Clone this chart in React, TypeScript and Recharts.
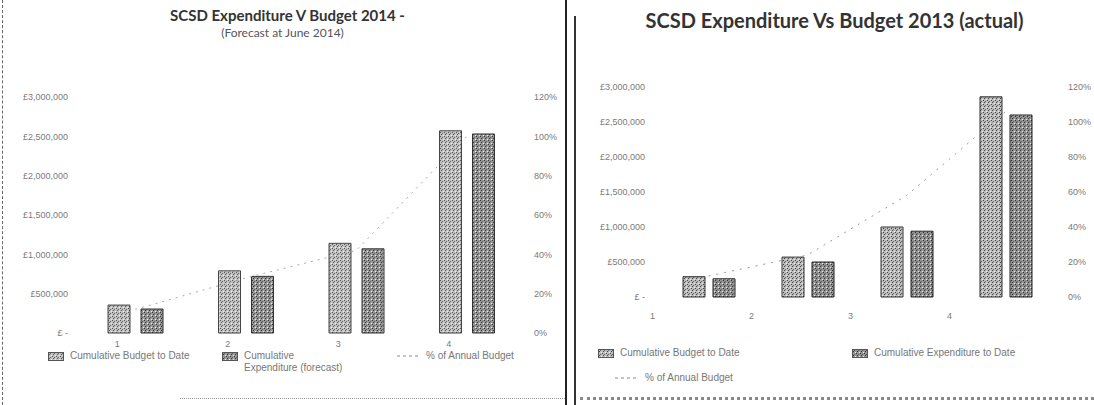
import React from 'react';
import {
  ComposedChart,
  Bar,
  Line,
  XAxis,
  YAxis,
} from 'recharts';

// quarters on the category axis
const quarters = ['1', '2', '3', '4'];

// 2014 (forecast at June 2014)
const budget2014 = [355000, 790000, 1140000, 2570000];
const expenditure2014 = [305000, 720000, 1070000, 2530000];
const pctOfBudget2014 = [0.12, 0.28, 0.42, 1.0];

// 2013 (actual)
const budget2013 = [290000, 570000, 1000000, 2860000];
const expenditure2013 = [260000, 500000, 940000, 2600000];
const pctOfBudget2013 = [0.12, 0.24, 0.58, 1.06];

const moneyTicks = [0, 500000, 1000000, 1500000, 2000000, 2500000, 3000000];
const pctTicks = [0, 0.2, 0.4, 0.6, 0.8, 1.0, 1.2];

const rows2014 = quarters.map((q, i) => ({
  q,
  budget: budget2014[i],
  spend: expenditure2014[i],
  pct: pctOfBudget2014[i],
}));

const rows2013 = quarters.map((q, i) => ({
  q,
  budget: budget2013[i],
  spend: expenditure2013[i],
  pct: pctOfBudget2013[i],
}));

const formatMoney = (v: number) => (v === 0 ? '£ -' : `£${v.toLocaleString('en-GB')}`);
const formatPct = (v: number) => `${Math.round(v * 100)}%`;

const tickStyle = { fontSize: 9, fill: '#7a7a7a', fontFamily: '"Liberation Sans", sans-serif' };
const legendText: React.CSSProperties = {
  position: 'absolute',
  fontSize: 10,
  color: '#777',
  fontFamily: '"Liberation Sans", sans-serif',
  whiteSpace: 'nowrap',
  lineHeight: '12px',
};

const Stipple = ({ id, base, dark }: { id: string; base: string; dark: string }) => (
  <pattern id={id} width="4" height="4" patternUnits="userSpaceOnUse">
    <rect width="4" height="4" fill={base} />
    <rect x="0" y="0" width="1" height="1" fill={dark} />
    <rect x="2" y="1" width="1" height="1" fill="#666" />
    <rect x="1" y="2" width="1" height="1" fill={dark} />
    <rect x="3" y="3" width="1" height="1" fill="#eee" />
  </pattern>
);

const Swatch = ({ fill, left, top }: { fill: string; left: number; top: number }) => (
  <svg style={{ position: 'absolute', left, top }} width={16} height={9}>
    <rect x={0.5} y={0.5} width={15} height={8} fill={fill} stroke="#555" />
  </svg>
);

const DashIcon = ({ left, top }: { left: number; top: number }) => (
  <svg style={{ position: 'absolute', left, top }} width={24} height={6}>
    <line x1={0} y1={3} x2={24} y2={3} stroke="#888" strokeDasharray="3 3" />
  </svg>
);

const Panel2014 = () => (
  <div style={{ position: 'absolute', left: 0, top: 0, width: 565, height: 405 }}>
    <div
      style={{
        position: 'absolute', left: 0, width: 565, top: 6, textAlign: 'center',
        fontFamily: 'Lato, sans-serif', color: '#333',
      }}
    >
      <div style={{ fontSize: 15, fontWeight: 700, paddingLeft: 10 }}>SCSD Expenditure V Budget 2014 -</div>
      <div style={{ fontSize: 12, color: '#555', marginTop: 1 }}>(Forecast at June 2014)</div>
    </div>
    <ComposedChart
      width={565}
      height={405}
      data={rows2014}
      margin={{ top: 97, right: 0, bottom: 52, left: 0 }}
      barSize={22}
      barGap={11}
      style={{ position: 'absolute', left: 0, top: 0 }}
    >
      <defs>
        <Stipple id="a14" base="#c2c2c2" dark="#555" />
        <Stipple id="b14" base="#989898" dark="#333" />
      </defs>
      <XAxis
        dataKey="q"
        height={20}
        axisLine={false}
        tickLine={false}
        tickSize={0}
        tickMargin={8}
        dx={-18}
        tick={tickStyle}
      />
      <YAxis
        yAxisId="money"
        width={80}
        domain={[0, 3000000]}
        ticks={moneyTicks}
        tickFormatter={formatMoney}
        axisLine={false}
        tickLine={false}
        tickSize={0}
        tickMargin={12}
        tick={tickStyle}
      />
      <YAxis
        yAxisId="pct"
        orientation="right"
        width={43}
        domain={[0, 1.2]}
        ticks={pctTicks}
        tickFormatter={formatPct}
        axisLine={false}
        tickLine={false}
        tickSize={0}
        tickMargin={12}
        tick={tickStyle}
      />
      <Bar yAxisId="money" dataKey="budget" fill="url(#a14)" stroke="#444" isAnimationActive={false} />
      <Bar yAxisId="money" dataKey="spend" fill="url(#b14)" stroke="#333" isAnimationActive={false} />
      <Line
        yAxisId="pct"
        type="linear"
        dataKey="pct"
        stroke="#aaa"
        strokeDasharray="2 5"
        dot={false}
        isAnimationActive={false}
      />
    </ComposedChart>
    <Swatch fill="url(#a14)" left={48} top={352} />
    <div style={{ ...legendText, left: 70, top: 350 }}>Cumulative Budget to Date</div>
    <Swatch fill="url(#b14)" left={222} top={352} />
    <div style={{ ...legendText, left: 244, top: 350 }}>
      Cumulative
      <br />
      Expenditure (forecast)
    </div>
    <DashIcon left={397} top={353} />
    <div style={{ ...legendText, left: 426, top: 350 }}>% of Annual Budget</div>
  </div>
);

const Panel2013 = () => (
  <div style={{ position: 'absolute', left: 575, top: 0, width: 519, height: 405 }}>
    <div
      style={{
        position: 'absolute', left: 0, width: 519, top: 8, textAlign: 'center',
        fontFamily: 'Lato, sans-serif', color: '#333', fontSize: 20, fontWeight: 700,
      }}
    >
      SCSD Expenditure Vs Budget 2013 (actual)
    </div>
    <ComposedChart
      width={519}
      height={405}
      data={rows2013}
      margin={{ top: 87, right: 0, bottom: 88, left: 0 }}
      barSize={22}
      barGap={8}
      style={{ position: 'absolute', left: 0, top: 0 }}
    >
      <defs>
        <Stipple id="a13" base="#bdbdbd" dark="#444" />
        <Stipple id="b13" base="#939393" dark="#333" />
      </defs>
      <XAxis
        dataKey="q"
        height={20}
        axisLine={false}
        tickLine={false}
        tickSize={0}
        tickMargin={16}
        dx={-56}
        tick={tickStyle}
      />
      <YAxis
        yAxisId="money"
        width={84}
        domain={[0, 3000000]}
        ticks={moneyTicks}
        tickFormatter={formatMoney}
        axisLine={false}
        tickLine={false}
        tickSize={0}
        tickMargin={14}
        tick={tickStyle}
      />
      <YAxis
        yAxisId="pct"
        orientation="right"
        width={39}
        domain={[0, 1.2]}
        ticks={pctTicks}
        tickFormatter={formatPct}
        axisLine={false}
        tickLine={false}
        tickSize={0}
        tickMargin={13}
        tick={tickStyle}
      />
      <Bar yAxisId="money" dataKey="budget" fill="url(#a13)" stroke="#333" isAnimationActive={false} />
      <Bar yAxisId="money" dataKey="spend" fill="url(#b13)" stroke="#222" isAnimationActive={false} />
      <Line
        yAxisId="pct"
        type="linear"
        dataKey="pct"
        stroke="#999"
        strokeDasharray="2 6"
        dot={false}
        isAnimationActive={false}
      />
    </ComposedChart>
    <Swatch fill="url(#a13)" left={23} top={349} />
    <div style={{ ...legendText, left: 45, top: 347 }}>Cumulative Budget to Date</div>
    <Swatch fill="url(#b13)" left={277} top={349} />
    <div style={{ ...legendText, left: 299, top: 347 }}>Cumulative Expenditure to Date</div>
    <DashIcon left={40} top={375} />
    <div style={{ ...legendText, left: 70, top: 372 }}>% of Annual Budget</div>
  </div>
);

export default function App() {
  return (
    <div
      style={{
        position: 'absolute', left: 0, top: 0, width: 1094, height: 405,
        background: '#fff', overflow: 'hidden',
      }}
    >
      {/* scan borders */}
      <div style={{ position: 'absolute', left: 2, top: 0, height: 405, borderLeft: '1px dashed #666' }} />
      <div style={{ position: 'absolute', left: 565, top: 0, height: 405, borderLeft: '2px solid #222' }} />
      <div style={{ position: 'absolute', left: 574, top: 16, height: 389, borderLeft: '2px solid #333' }} />
      <div style={{ position: 'absolute', left: 180, top: 398, width: 385, borderTop: '1px dotted #999' }} />
      <div style={{ position: 'absolute', left: 580, top: 397, width: 514, borderTop: '3px dotted #888' }} />
      <Panel2014 />
      <Panel2013 />
    </div>
  );
}
